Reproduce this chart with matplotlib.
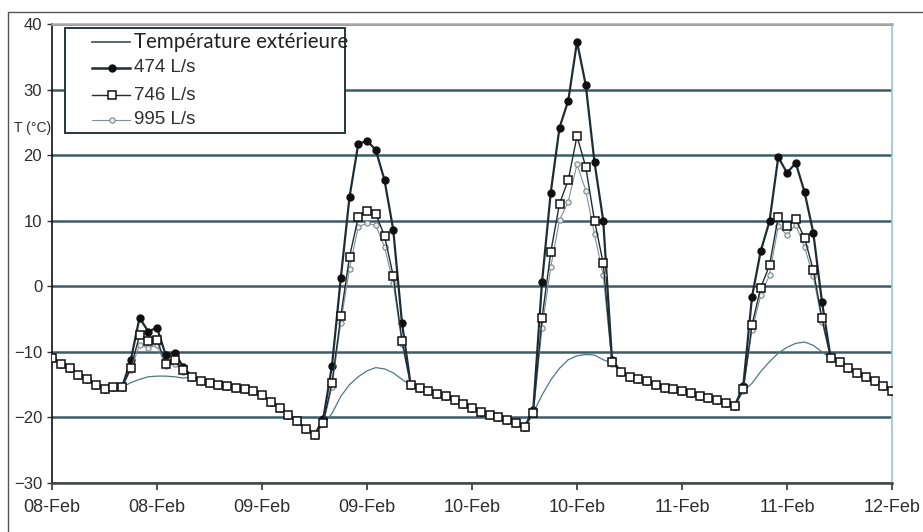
import matplotlib
matplotlib.use('Agg')
import matplotlib.pyplot as plt
import matplotlib.dates as mdates
import pandas as pd
from matplotlib.lines import Line2D
from matplotlib.patches import Rectangle

# ---------------- data (hourly, 08-Feb 00:00 -> 12-Feb 00:00) ----------------
start_time = '2007-02-08 00:00'
n_hours = 97

s474 = [
    -11.0, -11.8, -12.5, -13.5, -14.2, -15.0, -15.7, -15.4, -15.4, -11.3, -4.8, -6.9,
    -6.3, -10.5, -10.1, -12.3, -13.8, -14.5, -14.7, -15.1, -15.2, -15.5, -15.7, -16.0,
    -16.6, -17.6, -18.6, -19.6, -20.6, -21.7, -22.7, -20.2, -12.1, 1.2, 13.6, 21.7,
    22.2, 20.8, 16.2, 8.6, -5.6, -15.1, -15.5, -15.9, -16.4, -16.8, -17.3, -17.9,
    -18.6, -19.2, -19.6, -20.0, -20.4, -20.9, -21.5, -18.8, 0.6, 14.3, 24.2, 28.3,
    37.3, 30.7, 18.9, 10.0, -11.2, -13.0, -13.8, -14.2, -14.5, -15.1, -15.5, -15.7,
    -15.9, -16.3, -16.7, -17.1, -17.4, -17.8, -18.3, -15.2, -1.6, 5.4, 9.9, 19.7,
    17.3, 18.8, 14.4, 8.2, -2.4, -11.0, -11.5, -12.4, -13.2, -13.9, -14.5, -15.2,
    -15.9]

s746 = [
    -11.0, -11.8, -12.5, -13.5, -14.2, -15.0, -15.7, -15.4, -15.4, -12.5, -7.5, -8.4,
    -8.2, -11.8, -11.3, -12.8, -13.8, -14.5, -14.7, -15.1, -15.2, -15.5, -15.7, -16.0,
    -16.6, -17.6, -18.6, -19.6, -20.6, -21.7, -22.7, -20.8, -14.7, -4.6, 4.5, 10.5,
    11.5, 11.0, 7.7, 1.6, -8.3, -15.1, -15.5, -15.9, -16.4, -16.8, -17.3, -17.9,
    -18.6, -19.2, -19.6, -20.0, -20.4, -20.9, -21.5, -19.3, -4.9, 5.2, 12.6, 16.2,
    22.9, 18.2, 10.0, 3.5, -11.6, -13.0, -13.8, -14.2, -14.5, -15.1, -15.5, -15.7,
    -15.9, -16.3, -16.7, -17.1, -17.4, -17.8, -18.3, -15.7, -5.9, -0.2, 3.2, 10.6,
    9.2, 10.2, 7.4, 2.5, -4.9, -11.0, -11.5, -12.4, -13.2, -13.9, -14.5, -15.2,
    -15.9]

s995 = [
    -11.0, -11.8, -12.5, -13.5, -14.2, -15.0, -15.7, -15.4, -15.4, -12.8, -8.9, -9.4,
    -9.0, -12.2, -11.8, -13.0, -13.8, -14.5, -14.7, -15.1, -15.2, -15.5, -15.7, -16.0,
    -16.6, -17.6, -18.6, -19.6, -20.6, -21.7, -22.7, -21.0, -15.3, -5.6, 2.7, 9.1,
    9.6, 9.3, 6.0, 0.5, -8.8, -15.1, -15.5, -15.9, -16.4, -16.8, -17.3, -17.9,
    -18.6, -19.2, -19.6, -20.0, -20.4, -20.9, -21.5, -19.5, -6.4, 2.9, 10.1, 12.9,
    18.6, 14.6, 7.9, 1.7, -11.8, -13.0, -13.8, -14.2, -14.5, -15.1, -15.5, -15.7,
    -15.9, -16.3, -16.7, -17.1, -17.4, -17.8, -18.3, -15.9, -6.7, -1.4, 1.7, 9.2,
    7.8, 9.4, 6.0, 1.5, -5.4, -11.0, -11.5, -12.4, -13.2, -13.9, -14.5, -15.2,
    -15.9]

outdoor = [
    -11.0, -11.8, -12.5, -13.5, -14.2, -15.0, -15.7, -15.4, -15.4, -14.7, -14.2, -13.8,
    -13.7, -13.7, -13.8, -14.0, -13.8, -14.5, -14.7, -15.1, -15.2, -15.5, -15.7, -16.0,
    -16.6, -17.6, -18.6, -19.6, -20.6, -21.7, -22.7, -21.0, -19.4, -16.8, -15.0, -13.8,
    -12.9, -12.4, -12.6, -13.2, -14.2, -15.1, -15.5, -15.9, -16.4, -16.8, -17.3, -17.9,
    -18.6, -19.2, -19.6, -20.0, -20.4, -20.9, -21.5, -19.3, -16.6, -14.3, -12.5, -11.2,
    -10.6, -10.4, -10.5, -11.2, -11.7, -13.0, -13.8, -14.2, -14.5, -15.1, -15.5, -15.7,
    -15.9, -16.3, -16.7, -17.1, -17.4, -17.8, -18.3, -16.0, -14.8, -13.0, -11.5, -10.2,
    -9.3, -8.7, -8.5, -9.0, -10.0, -11.0, -11.5, -12.4, -13.2, -13.9, -14.5, -15.2,
    -15.9]

series_labels = ['Température extérieure', '474 L/s', '746 L/s', '995 L/s']
y_label = 'T (°C)'
y_ticks = [-30, -20, -10, 0, 10, 20, 30, 40]

# ---------------- figure ----------------
W, H = 923, 532
fig = plt.figure(figsize=(W / 100, H / 100), dpi=100)
fig.patch.set_facecolor('white')


def fx(px):
    return px / W


def fy(py):
    return (H - py) / H


ax = fig.add_axes([fx(52), fy(483), (892 - 52) / W, (483 - 24) / H])
times = pd.date_range(start_time, periods=n_hours, freq='h')

line_col = '#1f2c33'
ax.plot(times, outdoor, color='#4f7884', lw=0.9, zorder=3)
ax.plot(times, s474, color=line_col, lw=1.6, marker='o', ms=5.0,
        mfc='#101010', mec='#101010', zorder=4)
ax.plot(times, s995, color='#7f9096', lw=0.8, marker='o', ms=3.8,
        mfc='#e9ece8', mec='#7c878b', mew=0.8, zorder=5)
ax.plot(times, s746, color=line_col, lw=1.0, marker='s', ms=5.2,
        mfc='white', mec='#111111', mew=1.1, zorder=6)

ax.set_xlim(times[0], times[-1])
ax.set_ylim(-30, 40)
ax.set_yticks(y_ticks)
ax.xaxis.set_major_locator(mdates.HourLocator(byhour=[0, 12]))
ax.xaxis.set_major_formatter(mdates.DateFormatter('%d-%b'))

ax.set_axisbelow(True)
ax.yaxis.grid(True, color='#3c5c67', lw=1.8)
ax.xaxis.grid(False)

for lab in ax.get_xticklabels() + ax.get_yticklabels():
    lab.set_fontfamily(['Liberation Sans', 'DejaVu Sans'])
    lab.set_color('#2e2e2e')
for lab in ax.get_xticklabels():
    lab.set_fontsize(13)
for lab in ax.get_yticklabels():
    lab.set_fontsize(12)

ax.tick_params(axis='x', length=5, width=1.2, color='#333333', pad=6.5)
ax.tick_params(axis='y', length=3.6, width=1.0, color='#333333', pad=3.5)

ax.spines['left'].set_color('#111111')
ax.spines['left'].set_linewidth(1.2)
ax.spines['bottom'].set_color('#444444')
ax.spines['bottom'].set_linewidth(1.8)
ax.spines['top'].set_color('#a8a8a8')
ax.spines['top'].set_linewidth(1.8)
ax.spines['right'].set_color('#9cc4d2')
ax.spines['right'].set_linewidth(1.2)

fig.text(fx(14), fy(128), y_label, fontsize=10, ha='left', va='center',
         color='#2e2e2e', family=['Liberation Sans', 'DejaVu Sans'])

# outer frame of the original figure
fig.add_artist(Line2D([fx(8), fx(8), fx(923)], [fy(532), fy(12), fy(12)],
                      transform=fig.transFigure, color='#555555', lw=1.0))

# ---------------- legend (drawn by hand to match the box) ----------------
fig.add_artist(Rectangle((fx(65), fy(133)), (345 - 65) / W, (133 - 28) / H,
                         transform=fig.transFigure, facecolor='white',
                         edgecolor='#24363e', lw=1.4, zorder=10))
rows = [42, 68, 95, 120]
hx0, hx1, hxm = 92, 130, 112
styles = [
    dict(color='#3d4f56', lw=1.2),
    dict(color=line_col, lw=1.8),
    dict(color=line_col, lw=1.0),
    dict(color='#7f9096', lw=0.8),
]
markers = [
    None,
    dict(marker='o', ms=5.0, mfc='#101010', mec='#101010'),
    dict(marker='s', ms=5.2, mfc='white', mec='#111111', mew=1.1),
    dict(marker='o', ms=3.8, mfc='#e9ece8', mec='#7c878b', mew=0.8),
]
for r, st, mk in zip(rows, styles, markers):
    fig.add_artist(Line2D([fx(hx0), fx(hx1)], [fy(r), fy(r)],
                          transform=fig.transFigure, zorder=11, **st))
    if mk is not None:
        fig.add_artist(Line2D([fx(hxm)], [fy(r)], transform=fig.transFigure,
                              ls='none', zorder=12, **mk))
for r, lab in zip(rows, series_labels):
    if lab == series_labels[0]:
        fig.text(fx(134), fy(r), lab, fontsize=14.8, ha='left', va='center',
                 color='#222222', family=['Lato', 'DejaVu Sans'], zorder=13)
    else:
        fig.text(fx(134), fy(r), lab, fontsize=13.5, ha='left', va='center',
                 color='#2e2e2e', family=['Liberation Sans', 'DejaVu Sans'], zorder=13)

fig.savefig('out.png', dpi=100, facecolor='white')
